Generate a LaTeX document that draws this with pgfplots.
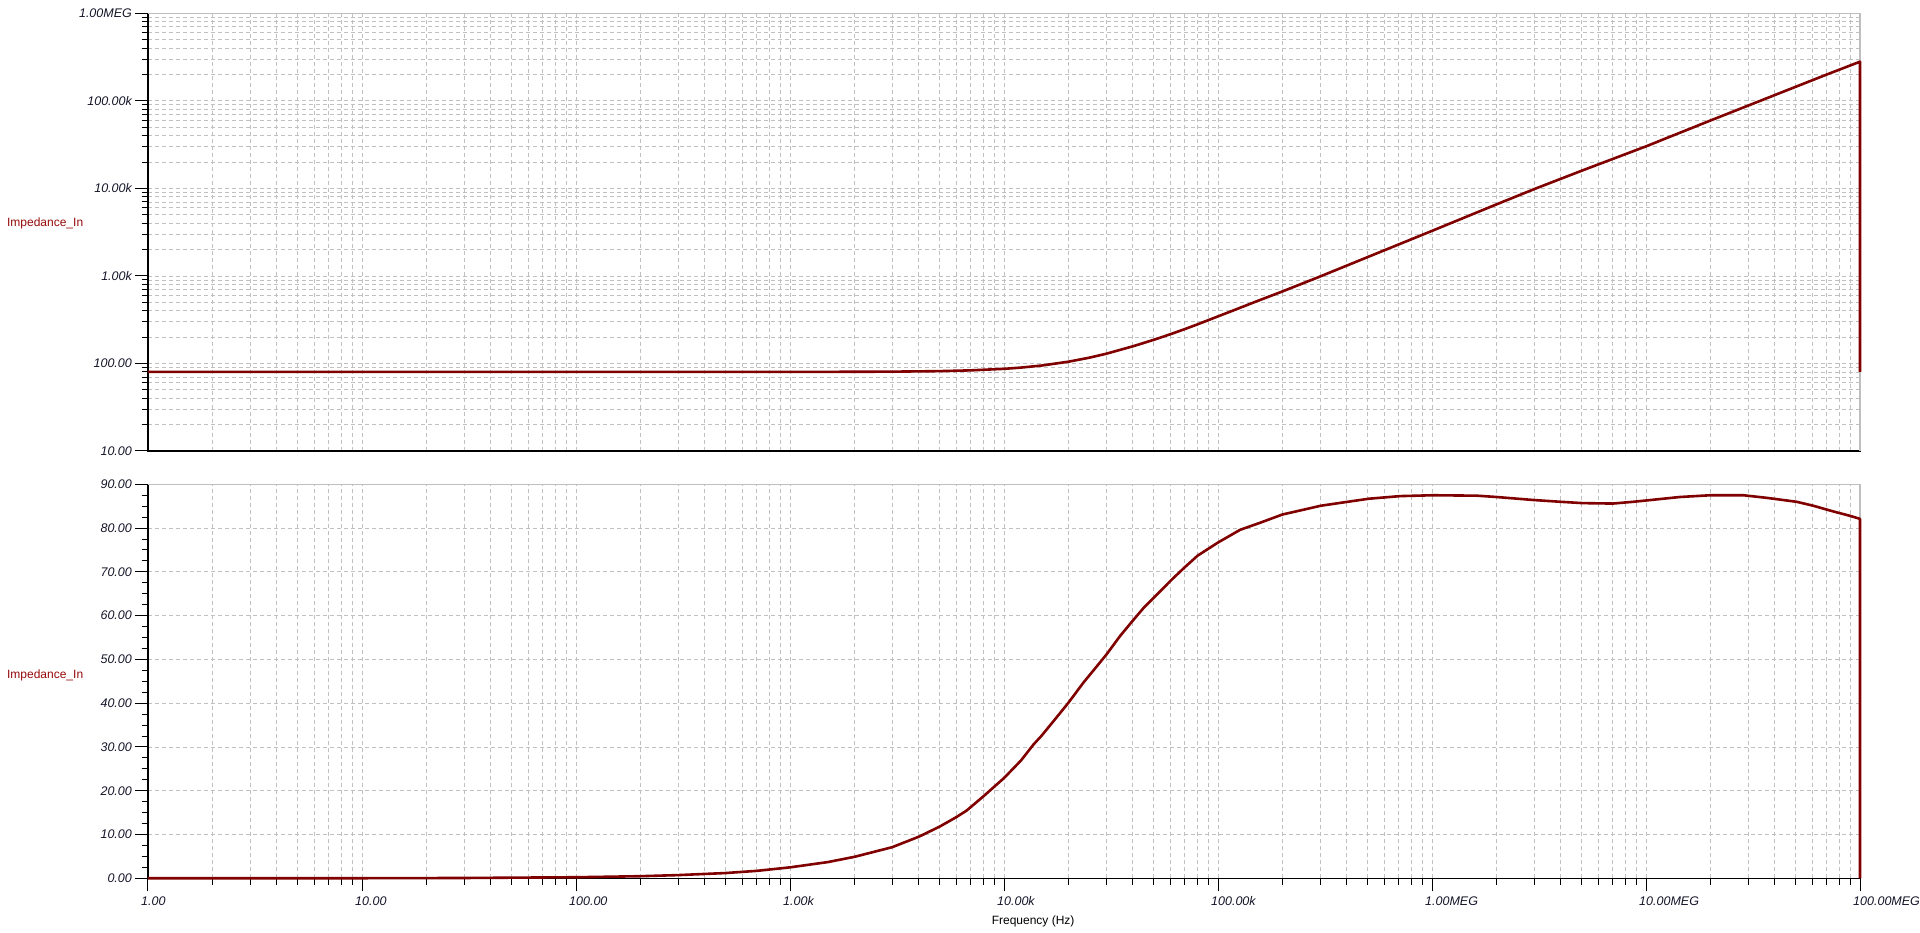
\documentclass[border=0pt]{standalone}
\usepackage{fontspec}
\setmainfont{Liberation Sans}
\usepackage{pgfplots}
\usepackage{pgfplotstable}
\pgfplotsset{compat=1.18}

\definecolor{curve}{RGB}{128,0,0}
\definecolor{lblred}{RGB}{150,10,10}
\definecolor{gridgray}{RGB}{192,192,192}
\definecolor{framegray}{RGB}{190,190,190}
\definecolor{ticktext}{RGB}{20,20,40}

% magnitude of the input impedance (ohm)
\pgfplotstableread{
f z
1 80
10 80
100 80
1000 80
3000 80.6
5000 81.7
7000 83.4
10000 86.8
12000 89.7
15000 94.7
20000 104.7
25000 116.3
30000 129
40000 157
50000 186
60000 216
70000 247
80000 279
100000 345
120000 410
150000 508
200000 665
300000 985
500000 1640
1e6 3270
2e6 6560
3e6 9800
5e6 15900
1e7 30200
2e7 59600
3e7 88200
5e7 144500
7e7 200000
1e8 280000
1e8 80
}\magdata

% phase of the input impedance (deg)
\pgfplotstableread{
f p
1 0
3 0.01
10 0.02
30 0.07
100 0.24
200 0.48
300 0.73
500 1.2
700 1.7
1000 2.5
1500 3.7
2000 4.9
3000 7.1
4000 9.5
5000 11.8
6000 14.0
6700 15.5
8000 18.7
10000 22.9
12000 26.9
13700 30.5
15000 32.6
17500 36.6
20000 40.1
23500 44.7
26500 47.8
30200 51.2
34800 55.3
40200 59.0
44800 61.7
50400 64.2
60700 68.2
70100 71.1
80300 73.7
100000 76.7
126800 79.6
157000 81.2
200000 83.1
241000 84.0
302000 85.1
403000 86.0
506000 86.7
708000 87.3
1.01e6 87.5
1.62e6 87.4
2.0e6 87.1
3.0e6 86.4
4.0e6 86.0
5.06e6 85.7
7.0e6 85.6
8.7e6 86.0
1e7 86.3
1.44e7 87.1
2e7 87.5
2.85e7 87.5
3.67e7 86.9
5.06e7 86.0
6.05e7 85.1
7.5e7 83.8
8.97e7 82.8
1e8 82.1
1e8 0
}\phasedata

\begin{document}
\begin{tikzpicture}
\useasboundingbox (0,0) rectangle (1920pt,932pt);

% top: |Z|
\begin{axis}[
    at={(148pt,481pt)}, anchor=south west,
    scale only axis, width=1712pt, height=437.7pt,
    xmode=log, ymode=log,
    xmin=1, xmax=1e8, ymin=10, ymax=1e6,
    axis x line*=bottom, axis y line*=left,
    axis line style={black, line width=1.2pt},
    tick align=outside,
    major tick length=13pt, minor tick length=6.5pt,
    tick style={black, line width=1pt},
    grid style={gridgray, dash pattern=on 4pt off 3pt, line width=0.8pt},
    xtick={1,10,100,1000,1e4,1e5,1e6,1e7,1e8},
    minor xtick={2,3,4,5,6,7,8,9,20,30,40,50,60,70,80,90,200,300,400,500,600,700,800,900,2000,3000,4000,5000,6000,7000,8000,9000,2e4,3e4,4e4,5e4,6e4,7e4,8e4,9e4,2e5,3e5,4e5,5e5,6e5,7e5,8e5,9e5,2e6,3e6,4e6,5e6,6e6,7e6,8e6,9e6,2e7,3e7,4e7,5e7,6e7,7e7,8e7,9e7},
    xticklabels={},
    ytick={10,100,1000,1e4,1e5,1e6},
    yticklabels={10.00,100.00,1.00k,10.00k,100.00k,1.00MEG},
    minor ytick={20,30,40,50,60,70,80,90,200,300,400,500,600,700,800,900,2000,3000,4000,5000,6000,7000,8000,9000,2e4,3e4,4e4,5e4,6e4,7e4,8e4,9e4,2e5,3e5,4e5,5e5,6e5,7e5,8e5,9e5},
    xmajorgrids, xminorgrids, ymajorgrids, yminorgrids,
    tick label style={font=\fontsize{12.5}{15}\selectfont\itshape, text=ticktext},
    yticklabel style={inner sep=0pt, xshift=-3pt},
    clip=false,
    ylabel={Impedance\_In},
    ylabel style={rotate=-90, anchor=west, inner sep=0pt,
      font=\fontsize{12}{14}\selectfont, text=lblred,
      at={(rel axis cs:-0.0824,0.5205)}},
]
\draw[framegray, line width=1.2pt] (rel axis cs:0,1) -- (rel axis cs:1,1) -- (rel axis cs:1,0);
\addplot[curve, line width=2.6pt, line join=round] table[x=f, y=z] {\magdata};
\end{axis}
% the upper panel shows no frequency ticks below its axis
\fill[white] (146.5pt,464pt) rectangle (1866pt,480.3pt);

% bottom: phase
\begin{axis}[
    at={(148pt,53.7pt)}, anchor=south west,
    scale only axis, width=1712pt, height=394pt,
    xmode=log,
    xmin=1, xmax=1e8, ymin=0, ymax=90,
    axis x line*=bottom, axis y line*=left,
    axis line style={black, line width=1.2pt},
    tick align=outside,
    major tick length=13pt, minor tick length=6.5pt,
    tick style={black, line width=1pt},
    grid style={gridgray, dash pattern=on 4pt off 3pt, line width=0.8pt},
    xtick={1,10,100,1000,1e4,1e5,1e6,1e7,1e8},
    minor xtick={2,3,4,5,6,7,8,9,20,30,40,50,60,70,80,90,200,300,400,500,600,700,800,900,2000,3000,4000,5000,6000,7000,8000,9000,2e4,3e4,4e4,5e4,6e4,7e4,8e4,9e4,2e5,3e5,4e5,5e5,6e5,7e5,8e5,9e5,2e6,3e6,4e6,5e6,6e6,7e6,8e6,9e6,2e7,3e7,4e7,5e7,6e7,7e7,8e7,9e7},
    xticklabels={1.00,10.00,100.00,1.00k,10.00k,100.00k,1.00MEG,10.00MEG,100.00MEG},
    ytick={0,10,20,30,40,50,60,70,80,90},
    yticklabels={0.00,10.00,20.00,30.00,40.00,50.00,60.00,70.00,80.00,90.00},
    minor ytick={2.5,5,7.5,12.5,15,17.5,22.5,25,27.5,32.5,35,37.5,42.5,45,47.5,52.5,55,57.5,62.5,65,67.5,72.5,75,77.5,82.5,85,87.5},
    xmajorgrids, xminorgrids, ymajorgrids,
    tick label style={font=\fontsize{12.5}{15}\selectfont\itshape, text=ticktext},
    yticklabel style={inner sep=0pt, xshift=-3pt},
    xticklabel style={anchor=north west, xshift=-7pt, inner sep=0pt, yshift=-5pt},
    clip=false,
    xlabel={Frequency (Hz)},
    xlabel style={at={(rel axis cs:0.517,0)}, anchor=center, yshift=-43.5pt,
      font=\fontsize{12}{14}\selectfont, text=black},
    ylabel={Impedance\_In},
    ylabel style={rotate=-90, anchor=west, inner sep=0pt,
      font=\fontsize{12}{14}\selectfont, text=lblred,
      at={(rel axis cs:-0.0824,0.515)}},
]
\draw[framegray, line width=1.2pt] (rel axis cs:0,1) -- (rel axis cs:1,1) -- (rel axis cs:1,0);
\addplot[curve, line width=2.6pt, line join=round] table[x=f, y=p] {\phasedata};
\end{axis}
\end{tikzpicture}
\end{document}
